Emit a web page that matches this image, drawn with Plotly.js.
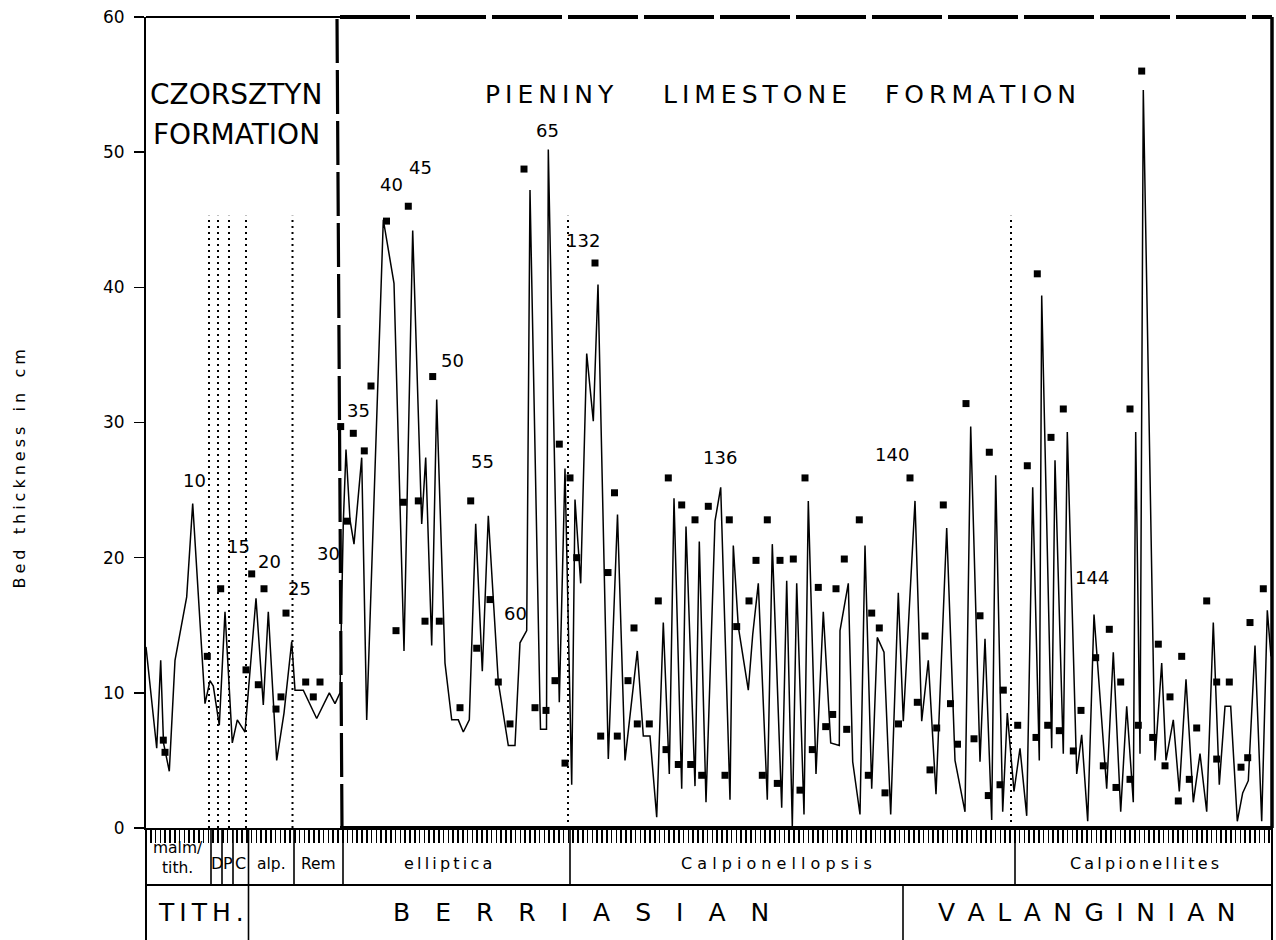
<!DOCTYPE html>
<html><head><meta charset="utf-8">
<script src="https://cdn.plot.ly/plotly-3.0.1.min.js"></script>
<style>html,body{margin:0;padding:0;background:#fff}#chart{width:1276px;height:940px}</style>
</head><body><div id="chart"></div>
<script>
// ---------- DATA ----------
// bed position along the section (figure units) and bed thickness (cm) — line series
const linePos = [146,156.7,160.7,163.5,169.3,175,186.7,192.7,205,210,213.3,219.3,225,232.3,237.3,245,256,263.3,268.3,276.7,284,291.7,295,303.3,316.7,329.3,335,340,
343.3,346,350,354,361.7,366.7,383.3,394,404,412.7,421.7,425.7,431.7,436.7,445,451.7,458.3,463.3,469.3,475.7,482.3,488.3,498.3,508.3,515,520,526.7,530,540,540.5,546.5,548.3,559.3,
565,571.7,575,580.7,586.7,593.3,598,608.3,617.5,625,637.3,643.3,650,656.7,663.3,669.3,674,681.7,686,695,699.3,706,715,720.7,730,733.3,738.3,748.3,752.7,758.3,767.3,772.3,781.7,786.7,792.3,796.7,804,808.3,816,823.3,830.7,839.3,840,848.3,852.7,860,865,871.7,877.3,884,890.7,898.3,903.3,915,921.7,928.3,936,946.7,955,965,
970.7,980,985,991.7,995.7,1002.7,1007.3,1014,1020,1026.7,1032.7,1039.3,1041.7,1051.7,1055,1063.3,1067.3,1076.7,1081.7,1087.7,1094,1106.7,1113.3,1120.7,1126.7,1133.3,1135.7,1140,1143.3,1155,1161.7,1166,1173.3,1179.3,1186,1193.3,1200,1206.7,1213.3,1219.3,1225,1230.7,1237.3,1242.7,1248.3,1255,1261.7,1267.3,1271];
const lineThick = [13.4,5.9,12.4,6.3,4.2,12.4,17.1,24.0,9.2,10.9,10.5,7.6,16.0,6.3,8.0,7.1,17.0,9.1,16.0,5.0,8.5,13.8,10.2,10.2,8.1,10.0,9.2,10.0,
22.6,28.0,22.8,21.0,27.4,8.0,45.0,40.3,13.1,44.2,22.5,27.4,13.5,31.7,12.2,8.0,8.0,7.1,8.0,22.5,11.6,23.1,10.8,6.1,6.1,13.7,14.6,47.2,8.9,7.3,7.3,50.2,9.3,
26.6,3.2,24.3,18.1,35.1,30.1,40.2,5.1,23.2,5.0,13.1,6.8,6.8,0.8,15.2,4.0,24.4,2.9,22.3,3.1,21.2,1.9,22.7,25.2,2.1,20.9,14.9,10.2,14.3,18.1,2.1,21.0,1.5,18.3,0.1,18.1,1.0,24.2,4.0,16.0,6.3,6.1,14.6,18.1,4.9,1.0,20.9,2.9,14.1,13.0,1.0,17.4,7.9,24.2,7.9,12.4,2.5,22.2,5.0,1.2,
29.7,4.9,14.0,0.6,26.1,1.2,8.5,2.7,5.9,0.9,25.2,5.0,39.4,5.9,27.2,5.5,29.3,4.0,6.9,0.5,15.8,2.9,13.0,1.2,9.0,1.9,29.3,5.5,54.6,5.0,12.2,5.0,8.0,2.7,11.0,1.9,5.5,1.2,15.2,3.2,9.0,9.0,0.5,2.6,3.5,13.5,0.5,16.1,12.7];

// square-marker series
const markPos = [163.3,165,207.3,220.7,246,251.7,258.3,264,276,281,286,305.7,313.3,320,340.7,347,
353.3,364.3,371,386.5,396,403.3,408.3,418.3,425,432.7,439.3,460,470.7,476.7,490,498.3,510,524,535,546,555,559.3,565,570,576.7,
595,600.7,608,614.5,617.3,628,634,637.3,649.3,658.3,666,668.3,678.3,681.7,690.7,695,701.7,708.3,725,729.3,736.7,749,756,762.3,767.3,777.3,780,793.3,800,805,812.3,818.3,825.7,832.7,836,844.3,846.7,859.3,868.3,871.7,879.3,885,898.5,
910,917.3,925,930,936.7,943.3,950.5,957.5,966,974,980,988.3,989.3,1000,1003.3,1017.7,1027.3,1036,1037.3,1047.7,1051,1059.3,1063.3,1073.3,1081,1095.7,1103.3,1109.3,1116,1120.7,1130,1130,1138.3,1141.7,
1152.7,1158.3,1165,1170,1178.3,1181.7,1189.3,1196.7,1206.7,1216.7,1216.7,1229.3,1241,1247.7,1250,1263.3];
const markVal = [6.5,5.6,12.7,17.7,11.7,18.8,10.6,17.7,8.8,9.7,15.9,10.8,9.7,10.8,29.7,22.7,
29.2,27.9,32.7,44.9,14.6,24.1,46.0,24.2,15.3,33.4,15.3,8.9,24.2,13.3,16.9,10.8,7.7,48.75,8.9,8.7,10.9,28.4,4.8,25.9,20.0,
41.8,6.8,18.9,24.8,6.8,10.9,14.8,7.7,7.7,16.8,5.8,25.9,4.7,23.9,4.7,22.8,3.9,23.8,3.9,22.8,14.9,16.8,19.8,3.9,22.8,3.3,19.8,19.9,2.8,25.9,5.8,17.8,7.5,8.4,17.7,19.9,7.3,22.8,3.9,15.9,14.8,2.6,7.7,
25.9,9.3,14.2,4.3,7.4,23.9,9.2,6.2,31.4,6.6,15.7,2.4,27.8,3.2,10.2,7.6,26.8,6.7,41.0,7.6,28.9,7.2,31.0,5.7,8.7,12.6,4.6,14.7,3.0,10.8,3.6,31.0,7.6,56.0,
6.7,13.6,4.6,9.7,2.0,12.7,3.6,7.4,16.8,10.8,5.1,10.8,4.5,5.2,15.2,17.7];

// bed numbers written on the chart
const bedNumbers = ['10','15','20','25','30','35','40','45','50','55','60','65','132','136','140','144'];
const bedNumPos  = [194,238,269,299,328,358,391,420,452,482,515,547,583,720,892,1092];
const bedNumVal  = [25.7,20.8,19.7,17.7,20.3,30.9,47.6,48.9,34.6,27.1,15.9,51.6,43.5,27.4,27.6,18.5];

// zone (calpionellid) and stage boundaries along the section
const zoneNames  = ['malm/<br>tith.','D','P','C','alp.','Rem','elliptica','Calpionellopsis','Calpionellites'];
const zoneBounds = [146,211,222,233,248.5,294,343,570,1015,1272];
const stageNames  = ['TITH.','BERRIASIAN','VALANGINIAN'];
const stageBounds = [146,248.5,903,1272];
const formationBoundary = 340;
const dottedBounds = [209,218,229,246,292.5,568,1011];
const dottedTop = 45.3;

// ---------- LAYOUT ----------
const W = 1276, H = 940, L = 146, R = 1272, T = 17, B = 828;
const FONT = 'DejaVu Sans';
const px2paperX = x => (x - L) / (R - L);
const px2paperY = y => (B - y) / (B - T);
const spaced = (s, sep, wsep) => s.split(' ').map(w => Array.from(w).join(sep)).join(wsep === undefined ? ' ' : wsep);
const THIN = '\u2009', EN = '\u2002', EM = '\u2003', QUARTER = '\u2005';

const shapes = [];
const ann = [];
const blk = '#000';
function pline(x0, y0, x1, y1, w, dash) {
  shapes.push({type:'line', xref:'paper', yref:'paper', x0:x0, y0:y0, x1:x1, y1:y1,
    line:{color:blk, width:w, dash:dash || 'solid'}, layer:'above'});
}
const fb = px2paperX(formationBoundary);
// plot frame
pline(0, 1, fb, 1, 2);
pline(fb, 1, 1, 1, 4, '70px,6px');
pline(1, 0, 1, 1, 3.5);
pline(fb, 0, 1, 0, 4);
// formation boundary (long dashes, slightly slanted as in the figure)
shapes.push({type:'line', xref:'paper', yref:'paper', x0:px2paperX(formationBoundary+2), y0:0, x1:px2paperX(formationBoundary-3), y1:1,
  line:{color:blk, width:3.2, dash:'44px,7px'}});
// dotted zone boundaries inside the plot
dottedBounds.forEach(x => shapes.push({type:'line', xref:'x', yref:'y', x0:x, x1:x, y0:0, y1:dottedTop,
  line:{color:blk, width:2, dash:'2px,4px'}}));

// stratigraphic table below the axis
const zoneBottom = 885, tableBottom = 940;
pline(0, px2paperY(B), 0, px2paperY(tableBottom), 2);
pline(px2paperX(R), px2paperY(B), px2paperX(R), px2paperY(tableBottom), 2);
pline(0, px2paperY(zoneBottom), 1, px2paperY(zoneBottom), 2);
zoneBounds.slice(1, -1).forEach(x => pline(px2paperX(x), px2paperY(B), px2paperX(x), px2paperY(zoneBottom), 1.6));
stageBounds.slice(1, -1).forEach(x => pline(px2paperX(x), px2paperY(zoneBottom), px2paperX(x), px2paperY(tableBottom), 1.6));

// zone labels
const zoneLabelX = [178, 216.5, 227.5, 240.5, 271, 318.5, 448, 776, 1144];
const zoneLabelTxt = [
  'malm/<br>tith.', 'D', 'P', 'C', 'alp.', 'Rem',
  spaced('elliptica', THIN), spaced('Calpionellopsis', ' '), spaced('Calpionellites', THIN)];
zoneNames.forEach((n, i) => ann.push({xref:'paper', yref:'paper', x:px2paperX(zoneLabelX[i]), y:px2paperY(i === 0 ? 858 : 864),
  text:zoneLabelTxt[i], showarrow:false, xanchor:'center', yanchor:'middle',
  font:{family:FONT, size:(i>0 && i<4) ? 16 : (i > 5 ? 16 : 15.5), color:blk}}));
// stage labels
const stageLabelX = [201, 581, 1087];
const stageSep = [THIN, EM, EN];
stageNames.forEach((n, i) => ann.push({xref:'paper', yref:'paper', x:px2paperX(stageLabelX[i]), y:px2paperY(913),
  text:spaced(n, stageSep[i]), showarrow:false, xanchor:'center', yanchor:'middle',
  font:{family:FONT, size:25, color:blk}}));

// formation names
ann.push({xref:'x', yref:'paper', x:236, y:px2paperY(95), text:'CZORSZTYN', showarrow:false, xanchor:'center', yanchor:'middle', font:{family:FONT, size:28, color:blk}});
ann.push({xref:'x', yref:'paper', x:236, y:px2paperY(134), text:'FORMATION', showarrow:false, xanchor:'center', yanchor:'middle', font:{family:FONT, size:28, color:blk}});
[['PIENINY',549],['LIMESTONE',755],['FORMATION',980]].forEach(([w, cx]) =>
  ann.push({xref:'x', yref:'paper', x:cx, y:px2paperY(95), text:spaced(w, THIN), showarrow:false, xanchor:'center', yanchor:'middle', font:{family:FONT, size:25, color:blk}}));

// bed numbers
bedNumbers.forEach((t, i) => ann.push({xref:'x', yref:'y', x:bedNumPos[i], y:bedNumVal[i], text:t, showarrow:false,
  xanchor:'center', yanchor:'middle', font:{family:FONT, size:18, color:blk}}));

// y-axis title
ann.push({xref:'paper', yref:'paper', x:px2paperX(18.5), y:px2paperY(469), text:spaced('Bed thickness in cm', QUARTER, '   '),
  textangle:-90, showarrow:false, xanchor:'center', yanchor:'middle', font:{family:FONT, size:16, color:blk}});

const traces = [
  {type:'scatter', mode:'lines', x:linePos, y:lineThick, line:{color:blk, width:1.5}, hoverinfo:'skip', cliponaxis:false},
  {type:'scatter', mode:'markers', x:markPos, y:markVal, marker:{symbol:'square', size:7, color:blk, line:{width:0}}, hoverinfo:'skip', cliponaxis:false}
];

const layout = {
  width:W, height:H, margin:{l:L, r:W-R, t:T, b:H-B, pad:0},
  paper_bgcolor:'#fff', plot_bgcolor:'#fff', showlegend:false,
  font:{family:FONT, color:blk},
  xaxis:{range:[L, R], tick0:L, dtick:4.8, ticks:'outside', ticklen:13, tickwidth:1.5, tickcolor:blk,
    showticklabels:false, showline:true, linewidth:2, linecolor:blk, showgrid:false, zeroline:false, fixedrange:true},
  yaxis:{range:[0, 60], tick0:0, dtick:10, ticks:'outside', ticklen:10, tickwidth:1.5, tickcolor:blk,
    showline:true, linewidth:2, linecolor:blk, showgrid:false, zeroline:false, ticklabelstandoff:6,
    tickfont:{family:FONT, size:17, color:blk}, fixedrange:true},
  shapes:shapes, annotations:ann
};
Plotly.newPlot('chart', traces, layout, {displayModeBar:false, staticPlot:true});
</script></body></html>
